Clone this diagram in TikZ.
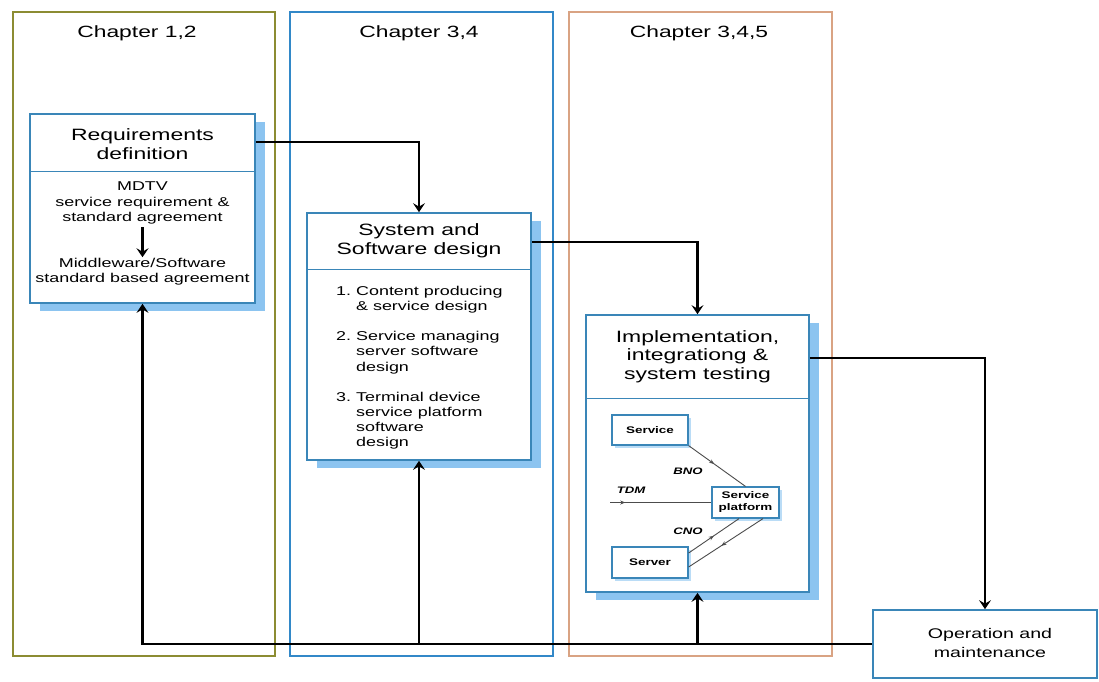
\documentclass[tikz,border=0pt]{standalone}
\usepackage{fontspec}
\setmainfont[FakeStretch=1.4]{Liberation Sans}
\usetikzlibrary{arrows.meta,shadows,decorations.markings}

\definecolor{framolive}{RGB}{140,140,50}
\definecolor{framblue}{RGB}{50,136,200}
\definecolor{framtan}{RGB}{217,163,131}
\definecolor{boxblue}{RGB}{58,134,184}
\definecolor{shadeblue}{RGB}{140,196,240}

\newcommand\chapfont{\fontsize{16.3}{19}\selectfont}
\newcommand\stagefont{\fontsize{16.4}{18.5}\selectfont}
\newcommand\bodyfont{\fontsize{12.8}{15.2}\selectfont}
\newcommand\opfont{\fontsize{14}{19}\selectfont}
\newcommand\minifont{\fontsize{9.6}{12}\selectfont\bfseries}
\newcommand\tagfont{\fontsize{9.4}{11}\selectfont\bfseries\itshape}

\begin{document}
\begin{tikzpicture}[x=1pt,y=-1pt,
  chapframe/.style={draw=#1, line width=1.6pt, minimum width=262pt, minimum height=644pt, inner sep=0pt},
  plainstage/.style={draw=boxblue, line width=1.7pt, fill=white, inner sep=0pt},
  stage/.style={plainstage,
    drop shadow={shadow xshift=10pt, shadow yshift=-8pt, fill=shadeblue, opacity=1}},
  mini/.style={draw=boxblue, line width=1.2pt, fill=white, inner sep=0pt, font=\minifont, align=center,
    drop shadow={shadow xshift=3pt, shadow yshift=-3pt, fill=shadeblue!60, opacity=1}},
  headrule/.style={draw=boxblue, line width=1pt},
  conn/.style={line width=2.6pt, black},
  arr/.style={conn, -{Stealth[length=9pt,width=12pt,inset=3.5pt]}},
  label/.style={inner sep=0pt, align=center},
  link/.style={line width=0.9pt, black!70},
  midarrow/.style={postaction={decorate}, decoration={markings,
    mark=at position #1 with {\arrow{Stealth[length=5pt,width=4pt]}}}}
]
\useasboundingbox (0,0) rectangle (1099,681);

% chapter frames
\node[chapframe=framolive] (ch1) at (144,334) {};
\node[chapframe=framblue, minimum width=263pt] (ch2) at (421.5,334) {};
\node[chapframe=framtan, minimum width=263pt] (ch3) at (700.5,334) {};
\node[label, font=\chapfont] (ch1lbl) at (137,33) {Chapter 1,2};
\node[label, font=\chapfont] (ch2lbl) at (419,33) {Chapter 3,4};
\node[label, font=\chapfont] (ch3lbl) at (699,33) {Chapter 3,4,5};

% stage boxes
\node[stage, minimum width=225pt, minimum height=189pt] (req) at (142.5,208.5) {};
\node[stage, minimum width=224pt, minimum height=247pt] (sys) at (419,336.5) {};
\node[stage, minimum width=223pt, minimum height=277pt] (impl) at (697.5,453.5) {};
\node[plainstage, minimum width=224pt, minimum height=68pt] (op) at (985,644) {};

% header rules
\draw[headrule] (req.west |- 0,171) -- (req.east |- 0,171);
\draw[headrule] (sys.west |- 0,269) -- (sys.east |- 0,269);
\draw[headrule] (impl.west |- 0,398) -- (impl.east |- 0,398);

% titles
\node[label, font=\stagefont] (reqtitle) at (142.5,144) {Requirements\\definition};
\node[label, font=\stagefont] (systitle) at (419,241) {System and\\Software design};
\node[label, font=\stagefont] (impltitle) at (697.5,356.5) {Implementation,\\integrationg \&\\system testing};
\node[label, font=\opfont] (optitle) at (990,643) {Operation and\\maintenance};

% requirements body
\node[label, font=\bodyfont] (reqtop) at (142.5,203) {MDTV\\service requirement \&\\standard agreement};
\node[label, font=\bodyfont] (reqbot) at (142.5,272) {Middleware/Software\\standard based agreement};
\draw[arr] (reqtop.south) ++(0,3) -- ([yshift=1pt]reqbot.north);

% design list
\node[anchor=north west, inner sep=0pt, font=\bodyfont] (syslist) at (336,284.5)
  {\begin{tabular}{@{}l@{\hspace{5pt}}l@{}}
   1. & Content producing\\
      & \& service design\\[15pt]
   2. & Service managing\\
      & server software\\
      & design\\[15pt]
   3. & Terminal device\\
      & service platform\\
      & software\\
      & design
   \end{tabular}};

% platform sketch inside the implementation box
\node[mini, minimum width=76pt, minimum height=30pt] (svc) at (650,430) {Service};
\node[mini, minimum width=76pt, minimum height=31pt] (srv) at (650,562.5) {Server};
\node[mini, minimum width=67pt, minimum height=31pt] (plat) at (745.5,502.5) {Service\\platform};
\coordinate (tdmin) at (610,502.5);
\draw[link, midarrow=0.45] (svc.south east) -- (plat.north);
\draw[link, midarrow=0.15] (tdmin) -- (plat.west);
\draw[link, midarrow=0.5] ([yshift=9.5pt]srv.east) -- ([xshift=-6.5pt]plat.south);
\draw[link, midarrow=0.56] ([xshift=17.5pt]plat.south) -- ([yshift=-4.5pt]srv.east);
\node[label, font=\tagfont] (bno) at (688,471) {BNO};
\node[label, font=\tagfont] (tdm) at (631,490) {TDM};
\node[label, font=\tagfont] (cno) at (688,531) {CNO};

% forward flow
\draw[arr] (req.east |- 0,142) -| (sys.north);
\draw[arr] (sys.east |- 0,242) -| (impl.north);
\draw[arr] (impl.east |- 0,358) -| (op.north);

% feedback flow
\draw[arr] (op.west) -| (req.south);
\draw[arr] (sys.south |- op.west) -- (sys.south);
\draw[arr] (impl.south |- op.west) -- (impl.south);
\end{tikzpicture}
\end{document}
